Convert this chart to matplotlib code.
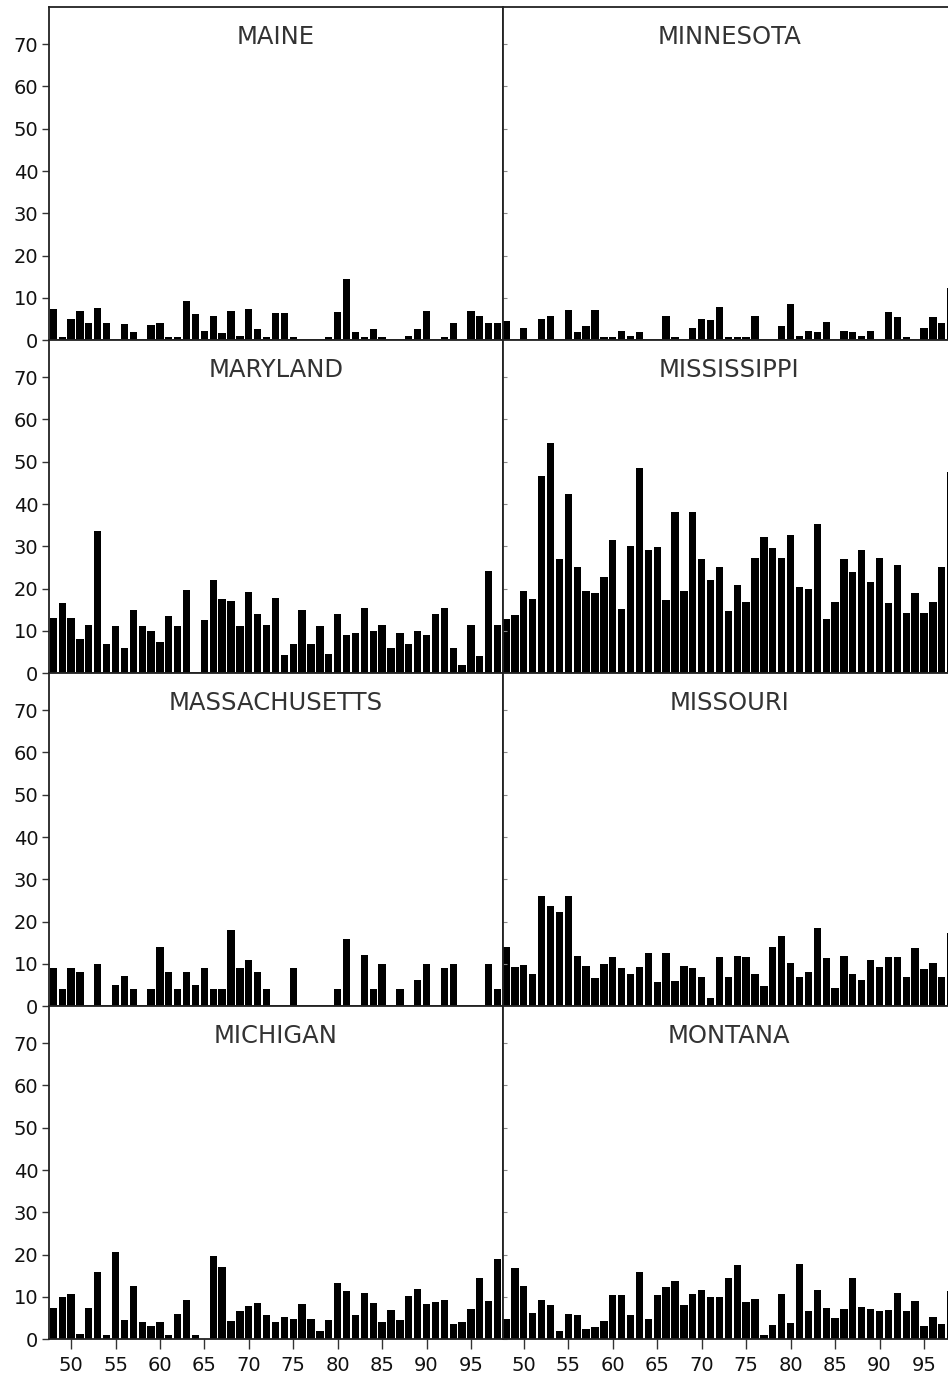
import numpy as np
import matplotlib.pyplot as plt

# years 1948-1998, two-digit labels
years = np.arange(48, 99)

maine = [7.4, 0.8, 5.1, 7.0, 4.2, 7.6, 4.2, 0, 3.8, 1.9,
         0, 3.6, 4.2, 0.8, 0.8, 9.4, 6.2, 2.2, 5.8, 1.8,
         7.0, 1.1, 7.4, 2.6, 0.8, 6.4, 6.4, 0.8, 0, 0,
         0, 0.8, 6.6, 14.4, 1.9, 0.8, 2.6, 0.8, 0, 0,
         1.0, 2.6, 7.0, 0, 0.8, 4.2, 0, 7.0, 5.8, 4.0, 4.2]

maryland = [13.0, 16.5, 13.0, 8.1, 11.5, 33.6, 6.9, 11.1, 6.0, 15.0,
            11.1, 9.9, 7.5, 13.5, 11.1, 19.6, 0, 12.6, 22.0, 17.5,
            17.1, 11.1, 19.1, 13.9, 11.5, 17.9, 4.4, 6.9, 15.0, 6.9,
            11.1, 4.5, 13.9, 9.0, 9.5, 15.5, 9.9, 11.5, 6.0, 9.5,
            6.9, 9.9, 9.0, 13.9, 15.5, 6.0, 2.0, 11.5, 4.1, 24.1, 11.5]

massachusetts = [9.0, 4.1, 9.0, 8.1, 0, 10.1, 0, 5.1, 7.1, 4.1,
                 0, 4.1, 14.0, 8.1, 4.1, 8.1, 5.1, 9.0, 4.1, 4.1,
                 18.0, 9.0, 11.0, 8.1, 4.1, 0, 0, 9.0, 0, 0,
                 0, 0, 4.1, 16.0, 0, 12.1, 4.1, 10.1, 0, 4.1,
                 0, 6.1, 10.1, 0, 9.0, 10.1, 0, 0, 0, 10.1, 4.1]

michigan = [7.5, 10.0, 10.8, 1.3, 7.5, 16.0, 1.0, 20.6, 4.6, 12.7,
            4.0, 3.2, 4.0, 1.0, 6.0, 9.3, 1.0, 0, 19.6, 17.2,
            4.3, 6.8, 7.8, 8.6, 5.8, 4.0, 5.3, 4.8, 8.3, 4.8,
            2.0, 4.6, 13.3, 11.5, 5.8, 11.0, 8.6, 4.0, 7.0, 4.6,
            10.3, 12.0, 8.3, 8.7, 9.3, 3.7, 4.0, 7.2, 14.4, 9.0, 19.0]

minnesota = [4.6, 0, 3.0, 0, 5.1, 5.8, 0, 7.2, 1.9, 3.4,
             7.2, 0.8, 0.8, 2.2, 1.1, 1.9, 0, 0, 5.8, 0.8,
             0, 3.0, 5.0, 4.7, 7.8, 0.8, 0.8, 0.8, 5.8, 0,
             0, 3.4, 8.6, 1.0, 2.3, 1.9, 4.3, 0, 2.2, 1.9,
             1.0, 2.2, 0, 6.6, 5.4, 0.8, 0, 3.0, 5.4, 4.2, 12.4]

mississippi = [12.9, 13.8, 19.5, 17.5, 46.6, 54.5, 26.9, 42.3, 25.1, 19.5,
               19.0, 22.7, 31.5, 15.2, 30.2, 48.6, 29.2, 29.9, 17.3, 38.2,
               19.5, 38.2, 26.9, 22.1, 25.1, 14.8, 20.9, 16.9, 27.3, 32.2,
               29.6, 27.3, 32.8, 20.5, 19.9, 35.2, 12.9, 16.9, 26.9, 23.9,
               29.1, 21.6, 27.3, 16.6, 25.6, 14.2, 19.0, 14.2, 16.9, 25.1, 47.6]

missouri = [14.0, 9.2, 9.7, 7.6, 26.1, 23.6, 22.4, 26.0, 12.0, 9.6,
            6.8, 10.0, 11.7, 9.0, 7.6, 9.2, 12.7, 5.7, 12.7, 6.0,
            9.6, 9.0, 7.0, 2.0, 11.7, 7.0, 11.9, 11.7, 7.6, 4.7,
            14.0, 16.7, 10.3, 7.0, 8.0, 18.4, 11.5, 4.3, 11.9, 7.7,
            6.2, 11.0, 9.2, 11.7, 11.7, 7.0, 13.7, 8.8, 10.3, 7.0, 17.3]

montana = [4.8, 16.9, 12.7, 6.3, 9.3, 8.1, 2.0, 6.0, 5.7, 2.4,
           3.0, 4.4, 10.5, 10.5, 5.8, 15.9, 4.8, 10.5, 12.4, 13.8,
           8.1, 10.8, 11.6, 10.0, 9.9, 14.5, 17.6, 8.9, 9.6, 1.0,
           3.4, 10.8, 3.8, 17.9, 6.8, 11.7, 7.4, 5.0, 7.2, 14.5,
           7.7, 7.2, 6.8, 7.0, 11.0, 6.8, 9.0, 3.2, 5.2, 3.5, 11.4]

left_states = ['MAINE', 'MARYLAND', 'MASSACHUSETTS', 'MICHIGAN']
left_data = [maine, maryland, massachusetts, michigan]
right_states = ['MINNESOTA', 'MISSISSIPPI', 'MISSOURI', 'MONTANA']
right_data = [minnesota, mississippi, missouri, montana]

W, H = 948, 1376
fig = plt.figure(figsize=(W / 100, H / 100), dpi=100)
plt.rcParams['font.family'] = 'DejaVu Sans'

x0, xm, xr = 49.3, 502.5, 956.0
top, ph = 7.3, 333.0


def panel(x_left, x_right, row, name, vals, left_col):
    y_top = top + row * ph
    ax = fig.add_axes([x_left / W, 1 - (y_top + ph) / H,
                       (x_right - x_left) / W, ph / H])
    ax.bar(years, vals, width=0.82, color='black', edgecolor='none')
    if left_col:
        ax.set_xlim(47.55, 98.55)
    else:
        ax.set_xlim(47.6, 98.6)
    ax.set_ylim(0, 78.7)
    ax.set_xticks(np.arange(50, 100, 5))
    ax.set_yticks(np.arange(0, 80, 10))
    for s in ax.spines.values():
        s.set_color('#222222')
        s.set_linewidth(1.3)
    ax.tick_params(axis='x', direction='out', length=7, width=1.0,
                   color='#333333', labelsize=14, pad=5,
                   labelcolor='#111111', labelbottom=(row == 3))
    if left_col:
        ax.tick_params(axis='y', direction='out', length=5, width=1.0,
                       color='#333333', labelsize=14, pad=3,
                       labelcolor='#111111')
    else:
        ax.tick_params(axis='y', direction='in', length=3, width=0.8,
                       color='#888888', labelleft=False)
    ax.text(0.5, 0.91, name, transform=ax.transAxes, ha='center',
            va='center', fontsize=17.5, color='#333333')
    return ax


for i in range(4):
    panel(x0, xm, i, left_states[i], left_data[i], True)
for i in range(4):
    panel(xm, xr, i, right_states[i], right_data[i], False)

fig.savefig('out.png', dpi=100)
